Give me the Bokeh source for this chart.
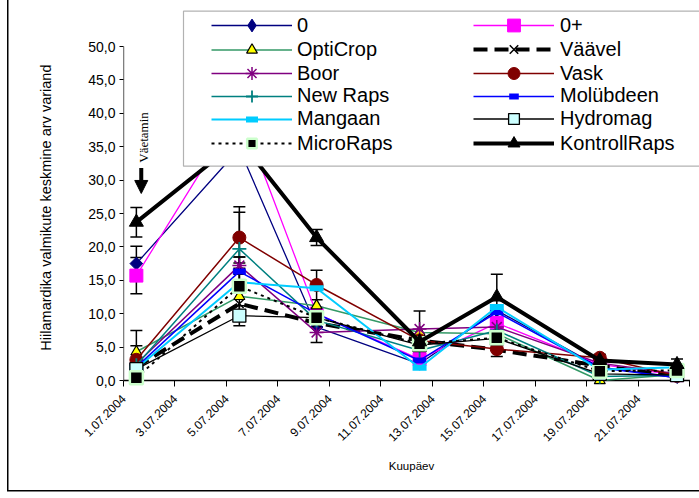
import math
from bokeh.plotting import figure
from bokeh.models import (Range1d, FixedTicker, ColumnDataSource, Whisker, TeeHead,
                          Legend, LegendItem, BoxAnnotation, Label, Arrow, NormalHead)
from bokeh.core.properties import value
from bokeh.embed import file_html
from bokeh.resources import INLINE

# ---------------- data ----------------
days = [1, 5, 8, 12, 15, 19, 22]          # day of July 2004
tick_days = [1, 3, 5, 7, 9, 11, 13, 15, 17, 19, 21, 23]
tick_labels = ["1.07.2004", "3.07.2004", "5.07.2004", "7.07.2004", "9.07.2004",
               "11.07.2004", "13.07.2004", "15.07.2004", "17.07.2004",
               "19.07.2004", "21.07.2004", ""]
y_ticks = [0, 5, 10, 15, 20, 25, 30, 35, 40, 45, 50]
y_tick_labels = ["0,0", "5,0", "10,0", "15,0", "20,0", "25,0", "30,0",
                 "35,0", "40,0", "45,0", "50,0"]

names = ["0", "0+", "OptiCrop", "Väävel", "Boor", "Vask", "New Raps",
         "Molübdeen", "Mangaan", "Hydromag", "MicroRaps", "KontrollRaps"]

v_0 = [17.5, 34.7, 8.0, 2.5, 10.5, 2.0, 0.5]
v_0p = [15.7, 40.6, 10.0, 3.2, 8.6, 2.4, 0.8]
v_opticrop = [4.3, 12.6, 11.2, 7.2, 7.0, 0.0, 0.9]
v_vaavel = [2.0, 11.5, 8.6, 6.0, 4.6, 2.2, 0.6]
v_boor = [2.5, 17.2, 7.2, 7.7, 8.0, 2.6, 1.0]
v_vask = [3.1, 21.4, 14.3, 6.0, 4.7, 3.4, 0.7]
v_newraps = [2.3, 19.7, 9.0, 4.5, 7.5, 0.6, 0.8]
v_molubdeen = [2.0, 16.3, 10.0, 3.0, 10.2, 1.9, 0.4]
v_mangaan = [1.8, 14.7, 13.8, 1.9, 11.0, 1.6, 2.0]
v_hydromag = [1.7, 9.7, 9.4, 5.3, 6.3, 1.0, 0.8]
v_microraps = [0.4, 14.1, 9.4, 5.5, 6.4, 1.4, 1.5]
v_kontroll = [23.7, 36.0, 21.4, 5.8, 12.5, 3.0, 2.4]

e_0 = [2.6, 0, 0, 0, 0, 0, 0]
e_0p = [2.7, 0, 0, 0, 0, 0, 0]
e_opticrop = [3.2, 0, 0, 0, 0, 0, 0]
e_vaavel = [0, 0, 0, 0, 0, 0, 0]
e_boor = [0, 1.3, 1.5, 2.7, 0, 0, 0]
e_vask = [2.1, 4.6, 2.2, 0, 1.1, 0.5, 0]
e_newraps = [0, 5.5, 0, 0, 0, 0, 0]
e_molubdeen = [0, 2.2, 0, 0, 0, 0, 0]
e_mangaan = [0, 0, 0, 0, 0, 0, 0]
e_hydromag = [0, 1.5, 0, 0, 0, 0, 0]
e_microraps = [0, 3.5, 0, 0, 0, 0, 0]
e_kontroll = [2.2, 0, 1.2, 0, 3.4, 0.9, 0.8]

values = [v_0, v_0p, v_opticrop, v_vaavel, v_boor, v_vask, v_newraps,
          v_molubdeen, v_mangaan, v_hydromag, v_microraps, v_kontroll]
errors = [e_0, e_0p, e_opticrop, e_vaavel, e_boor, e_vask, e_newraps,
          e_molubdeen, e_mangaan, e_hydromag, e_microraps, e_kontroll]

# ---------------- styles ----------------
# leg_marker: marker used for the legend swatch when it differs from the plotted one
styles = [
    dict(color="#000080", lw=1.3, dash="solid", marker="square", angle=math.pi/4, size=9,
         fill="#000080", mline="#000080", mlw=1, gh=32, leg_marker="diamond"),
    dict(color="#FF00FF", lw=1.3, dash="solid", marker="square", angle=0, size=13,
         fill="#FF00FF", mline="#FF00FF", mlw=1, gh=32),
    dict(color="#339966", lw=1.5, dash="solid", marker="triangle", angle=0, size=11,
         fill="#FFFF00", mline="black", mlw=1.2, gh=27),
    dict(color="black", lw=4, dash="14 7", marker="x", angle=0, size=12,
         fill="black", mline="black", mlw=1.5, gh=30),
    dict(color="#800080", lw=1.5, dash="solid", marker="asterisk", angle=0, size=14,
         fill="#800080", mline="#800080", mlw=1.5, gh=32),
    dict(color="#800000", lw=1.5, dash="solid", marker="circle", angle=0, size=13,
         fill="#800000", mline="#800000", mlw=1, gh=30),
    dict(color="#008080", lw=1.5, dash="solid", marker="cross", angle=0, size=14,
         fill="#008080", mline="#008080", mlw=1.8, gh=30),
    dict(color="#0000FF", lw=1.5, dash="solid", marker="dash", angle=0, size=13,
         fill="#0000FF", mline="#0000FF", mlw=6, gh=24),
    dict(color="#00CCFF", lw=2, dash="solid", marker="dash", angle=0, size=14,
         fill="#00CCFF", mline="#00CCFF", mlw=6, gh=30),
    dict(color="black", lw=1.3, dash="solid", marker="square", angle=0, size=13,
         fill="#CCFFFF", mline="black", mlw=1.3, gh=27),
    dict(color="black", lw=2, dash="3 4", marker="square", angle=0, size=13,
         fill="black", mline="#CCFFCC", mlw=2.5, gh=24),
    dict(color="black", lw=4, dash="solid", marker="triangle", angle=0, size=14,
         fill="black", mline="black", mlw=1, gh=30),
]

FONT = "Liberation Sans"
W, H = 699, 498
FRAME_LEFT = 123
FRAME_BOTTOM = 386
PX_Y0, PX_Y50 = 380.0, 46.0          # pixel rows of 0 and 50 on the value axis
PX_X1, PX_X23 = 123.3, 689.7         # pixel columns of 1.07 and 23.07
py = (PX_Y0 - PX_Y50) / (y_ticks[-1] - y_ticks[0])
px = (PX_X23 - PX_X1) / (tick_days[-1] - tick_days[0])
y_start = y_ticks[0] - (FRAME_BOTTOM - PX_Y0) / py
y_end = y_ticks[-1] + PX_Y50 / py
x_end = tick_days[0] + (W - FRAME_LEFT) / px

p = figure(width=W, height=H, output_backend="svg", toolbar_location=None,
           x_range=Range1d(tick_days[0], x_end), y_range=Range1d(y_start, y_end),
           min_border_left=FRAME_LEFT, min_border_right=0,
           min_border_top=0, min_border_bottom=H - FRAME_BOTTOM)
p.title.visible = False
p.xgrid.visible = False
p.ygrid.visible = False
p.outline_line_color = None
p.background_fill_color = "white"
p.border_fill_color = None
# outer chart-area border: left edge and bottom edge (top/right fall outside the picture)
p.styles = {
    "background": ("linear-gradient(#000,#000) 7px 0px / 1.5px 491px no-repeat, "
                   "linear-gradient(#000,#000) 7px 490px / 700px 1.5px no-repeat, white"),
}

# x axis
xa = p.xaxis[0]
xa.ticker = FixedTicker(ticks=tick_days)
xa.major_label_overrides = {d: l for d, l in zip(tick_days, tick_labels)}
xa.major_label_orientation = math.pi / 4
xa.major_label_text_font = FONT
xa.major_label_text_font_size = "12px"
xa.major_label_text_color = "black"
xa.major_label_standoff = 10
xa.major_tick_in = 6
xa.major_tick_out = 0
xa.major_tick_line_color = "black"
xa.minor_tick_line_color = None
xa.axis_line_color = None
xa.axis_label = "Kuupäev"
xa.axis_label_text_font = FONT
xa.axis_label_text_font_size = "11.5px"
xa.axis_label_text_font_style = "normal"
xa.axis_label_text_color = "black"
xa.axis_label_standoff = 12

# y axis
ya = p.yaxis[0]
ya.ticker = FixedTicker(ticks=y_ticks)
ya.major_label_overrides = {t: l for t, l in zip(y_ticks, y_tick_labels)}
ya.major_label_text_font = FONT
ya.major_label_text_font_size = "14px"
ya.major_label_text_color = "black"
ya.major_label_standoff = 4
ya.major_tick_in = 0
ya.major_tick_out = 4
ya.major_tick_line_color = "black"
ya.minor_tick_line_color = None
ya.axis_line_color = None
ya.axis_label = "Hiilamardika valmikute keskmine arv variand" + "\u00a0" * 7
ya.axis_label_text_font = FONT
ya.axis_label_text_font_size = "14.5px"
ya.axis_label_text_font_style = "normal"
ya.axis_label_text_color = "black"
ya.axis_label_standoff = 31

# axis lines along y = 0 and x = first tick
p.segment(x0=[tick_days[0]], y0=[y_ticks[0]], x1=[tick_days[-1]], y1=[y_ticks[0]],
          line_color="black", line_width=1.3)
p.segment(x0=[tick_days[0]], y0=[y_ticks[0]], x1=[tick_days[0]], y1=[y_ticks[-1]],
          line_color="black", line_width=1.3)

# points sit in the middle of each day's slot
xs = [d + 0.5 for d in days]

for i, name in enumerate(names):
    vals = values[i]
    errs = errors[i]
    ex = [x for x, e in zip(xs, errs) if e > 0]
    eu = [v + e for v, e in zip(vals, errs) if e > 0]
    el = [v - e for v, e in zip(vals, errs) if e > 0]
    if ex:
        src_e = ColumnDataSource(dict(x=ex, upper=eu, lower=el))
        w = Whisker(source=src_e, base="x", upper="upper", lower="lower",
                    dimension="height", line_color="black", line_width=1.5,
                    upper_head=TeeHead(size=12, line_color="black", line_width=1.5),
                    lower_head=TeeHead(size=12, line_color="black", line_width=1.5))
        p.add_layout(w)

renderers = []
for i, name in enumerate(names):
    st = styles[i]
    src = ColumnDataSource(dict(x=xs, y=values[i]))
    lr = p.line("x", "y", source=src, line_color=st["color"], line_width=st["lw"],
                line_dash=st["dash"])
    sr = p.scatter("x", "y", source=src, marker=st["marker"], size=st["size"],
                   angle=st["angle"], fill_color=st["fill"], line_color=st["mline"],
                   line_width=st["mlw"])
    leg_rs = [lr, sr]
    if "leg_marker" in st:
        # swatch-only copy of the marker (hidden in the plot area)
        hr = p.scatter("x", "y", source=src, marker=st["leg_marker"], size=st["size"],
                       fill_color=st["fill"], line_color=st["mline"],
                       line_width=st["mlw"], visible=False)
        leg_rs = [lr, hr]
    renderers.append(leg_rs)

# legend box (the chart is cut on the right side)
p.add_layout(BoxAnnotation(left=183, right=W + 60, top=10.7, bottom=165.7,
                           left_units="canvas", right_units="canvas",
                           top_units="canvas", bottom_units="canvas",
                           fill_color="white", fill_alpha=1.0,
                           line_color="black", line_width=1.2))

row_y = [25, 49, 73, 95.5, 118.5, 143]
col_x = [211, 473]
col_standoff = [5, 6]
for i, name in enumerate(names):
    st = styles[i]
    r, c = divmod(i, 2)
    gh = st["gh"]
    leg = Legend(items=[LegendItem(label=value(name), renderers=renderers[i])],
                 location=(col_x[c] - FRAME_LEFT, FRAME_BOTTOM - (row_y[r] + gh / 2)),
                 orientation="vertical", padding=0, margin=0, spacing=0,
                 border_line_color=None, background_fill_alpha=0,
                 inactive_fill_alpha=0,
                 glyph_width=81, glyph_height=gh, label_height=gh,
                 label_standoff=col_standoff[c],
                 label_text_font=FONT, label_text_font_size="20px",
                 label_text_color="black")
    p.add_layout(leg)

# fertilisation marker
p.add_layout(Arrow(x_start=1.69, y_start=31.8, x_end=1.69, y_end=28.0,
                   line_width=4, line_color="black",
                   end=NormalHead(size=13, fill_color="black", line_color="black")))
p.add_layout(Label(x=1.77, y=32.6, text="Väetamin", angle=math.pi / 2,
                   text_font="Liberation Serif", text_font_size="13px",
                   text_align="left", text_baseline="middle", text_color="black"))

open("out.html", "w").write(file_html(p, INLINE))
